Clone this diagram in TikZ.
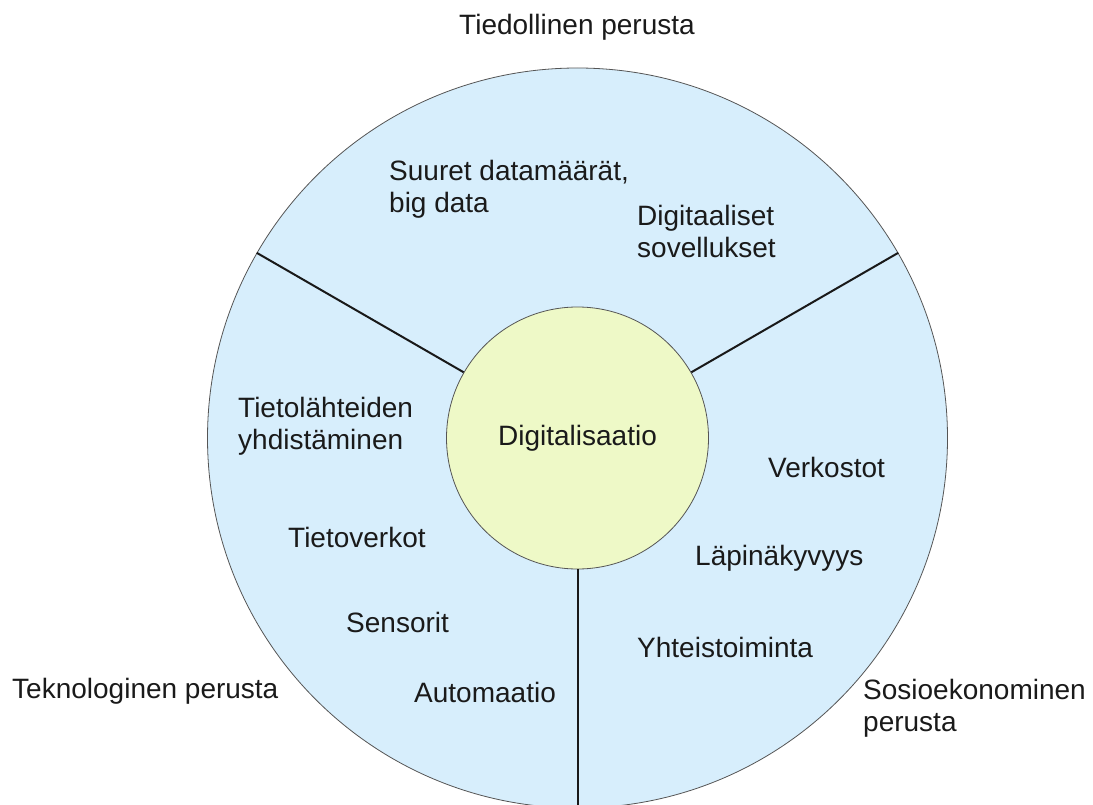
\documentclass[tikz,border=0pt]{standalone}
\usepackage{fontspec}
\setmainfont{Liberation Sans}
\usepackage{xcolor}
\usetikzlibrary{positioning}
\definecolor{RingBlue}{HTML}{D7EEFC}
\definecolor{CoreYellow}{HTML}{EEF9C7}
\definecolor{EdgeGray}{HTML}{555555}
\definecolor{TextBlack}{HTML}{1A1A1A}
\newcommand{\wheelfont}{\fontsize{28pt}{32pt}\selectfont}
\tikzset{
    % Circle styles
    ring/.style={
        circle,
        draw=EdgeGray,
        fill=RingBlue,
        line width=0.8pt,
        minimum size=740pt,
        inner sep=0pt
    },
    core/.style={
        circle,
        draw=EdgeGray,
        fill=CoreYellow,
        line width=0.8pt,
        minimum size=262pt,
        inner sep=0pt,
        text=TextBlack,
        font=\wheelfont
    },
    % Text styles
    item/.style={
        anchor=base west,
        align=left,
        inner sep=0pt,
        text=TextBlack,
        font=\wheelfont
    },
    % Divider lines
    spoke/.style={
        line width=2pt,
        draw=black!90
    }
}

\begin{document}
\begin{tikzpicture}[x=1pt, y=-1pt]
    \clip (0,0) rectangle (1093,805);

    % Wheel
    \node[ring] (ring) at (577.5,438) {};
    \node[core] (core) at (577.5,438) {Digitalisaatio};

    % Dividers
    \draw[spoke] (core.150) -- (ring.150);
    \draw[spoke] (core.30) -- (ring.30);
    \draw[spoke] (core.270) -- (ring.270);

    % Sector 1 (base = last line)
    \node[item] (big) at (389,213) {Suuret datamäärät,\\big data};
    \node[item] (apps) at (637,258) {Digitaaliset\\sovellukset};

    % Sector 2
    \node[item] (merge) at (238,449) {Tietolähteiden\\yhdistäminen};
    \node[item] (nets) at (288,547) {Tietoverkot};
    \node[item] (sens) at (346,632) {Sensorit};
    \node[item] (auto) at (414,702) {Automaatio};

    % Sector 3
    \node[item] (verk) at (768,477) {Verkostot};
    \node[item] (lapi) at (695,565) {Läpinäkyvyys};
    \node[item] (yht) at (637,657) {Yhteistoiminta};

    % Outer captions
    \node[item, anchor=base] (tied) at (577,35) {Tiedollinen perusta};
    \node[item] (tekn) at (12,698) {Teknologinen perusta};
    \node[item] (sosio) at (863,731) {Sosioekonominen\\perusta};
\end{tikzpicture}
\end{document}
